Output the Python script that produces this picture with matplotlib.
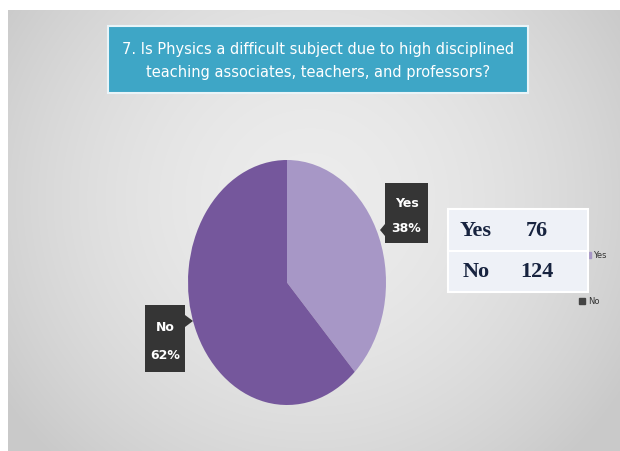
import numpy as np
import matplotlib.pyplot as plt
from matplotlib.patches import Rectangle, Polygon

# data
labels = ["Yes", "No"]
counts = [76, 124]
colors = ["#a797c6", "#75579c"]
title = "7. Is Physics a difficult subject due to high disciplined\nteaching associates, teachers, and professors?"

W, H = 620, 452
fig = plt.figure(figsize=(W / 100, H / 100), dpi=100)
fig.patch.set_facecolor("white")

# background slide with soft radial gradient
bg = fig.add_axes([0, 0, 1, 1], zorder=0)
yy, xx = np.mgrid[0:H, 0:W]
r = np.sqrt(((xx - 310) / 330.0) ** 2 + ((yy - 200) / 320.0) ** 2)
shade = np.clip(0.925 - 0.11 * r ** 1.8, 0.79, 0.93)
img = np.dstack([shade, shade, shade])
img[:11, :, :] = 1.0
img[:, :8, :] = 1.0
bg.imshow(img, extent=(0, W, H, 0), aspect="auto", interpolation="bilinear")
bg.set_xlim(0, W)
bg.set_ylim(H, 0)
bg.axis("off")

# pie (stretched ellipse like the slide)
px0, px1, py0, py1 = 188, 386, 161, 406
pax = fig.add_axes([px0 / W, 1 - py1 / H, (px1 - px0) / W, (py1 - py0) / H], zorder=1)
pax.pie(counts, colors=colors, startangle=90, counterclock=False,
        wedgeprops=dict(linewidth=0))
pax.set_aspect("auto")
pax.set_xlim(-1, 1)
pax.set_ylim(-1, 1)
pax.axis("off")

# overlay in pixel coordinates
ax = fig.add_axes([0, 0, 1, 1], zorder=2)
ax.set_xlim(0, W)
ax.set_ylim(H, 0)
ax.axis("off")
ax.patch.set_alpha(0)

# title box
ax.add_patch(Rectangle((108, 27), 420, 67, facecolor="#3ea6c6",
                       edgecolor="#e9f4f8", linewidth=1.5))
ax.text(318, 61, title, ha="center", va="center", color="white",
        fontsize=10.5, linespacing=1.6)

# data labels
total = sum(counts)
pct = [round(100 * c / total) for c in counts]


def callout(x0, y0, w, h, tip, side, lab, p):
    ax.add_patch(Rectangle((x0, y0), w, h, facecolor="#353535", edgecolor="none"))
    tx, ty = tip
    if side == "left":
        ax.add_patch(Polygon([(x0, ty - 6), (tx, ty), (x0, ty + 6)],
                             facecolor="#353535", edgecolor="none"))
    else:
        ax.add_patch(Polygon([(x0 + w, ty - 6), (tx, ty), (x0 + w, ty + 6)],
                             facecolor="#353535", edgecolor="none"))
    ax.text(x0 + w / 2, y0 + h * 0.32, lab, ha="center", va="center",
            color="white", fontsize=9, fontweight="bold")
    ax.text(x0 + w / 2, y0 + h * 0.74, "{}%".format(p), ha="center",
            va="center", color="white", fontsize=9, fontweight="bold")


callout(385, 184, 43, 60, (380, 231), "left", labels[0], pct[0])
callout(145, 306, 40, 67, (193, 322), "right", labels[1], pct[1])

# legend remnants behind the table
ax.plot([588], [256], marker="s", markersize=4, color=colors[0], linestyle="none")
ax.text(593, 256, labels[0], fontsize=6, color="#333333", va="center")
ax.plot([582], [302], marker="s", markersize=4, color="#444444", linestyle="none")
ax.text(588, 302, labels[1], fontsize=6, color="#333333", va="center")

# count table
ax.add_patch(Rectangle((448, 210), 140, 42, facecolor="#eef1f7",
                       edgecolor="white", linewidth=1.5, zorder=3))
ax.add_patch(Rectangle((448, 252), 140, 41, facecolor="#eef1f7",
                       edgecolor="white", linewidth=1.5, zorder=3))
for i, (lab, c) in enumerate(zip(labels, counts)):
    yc = 231 + 41 * i
    ax.text(476, yc, lab, ha="center", va="center", fontsize=16,
            fontweight="bold", family="Liberation Serif", color="#17233f", zorder=4)
    ax.text(537, yc, str(c), ha="center", va="center", fontsize=16,
            fontweight="bold", family="Liberation Serif", color="#17233f", zorder=4)

fig.savefig("out.png", dpi=100)
